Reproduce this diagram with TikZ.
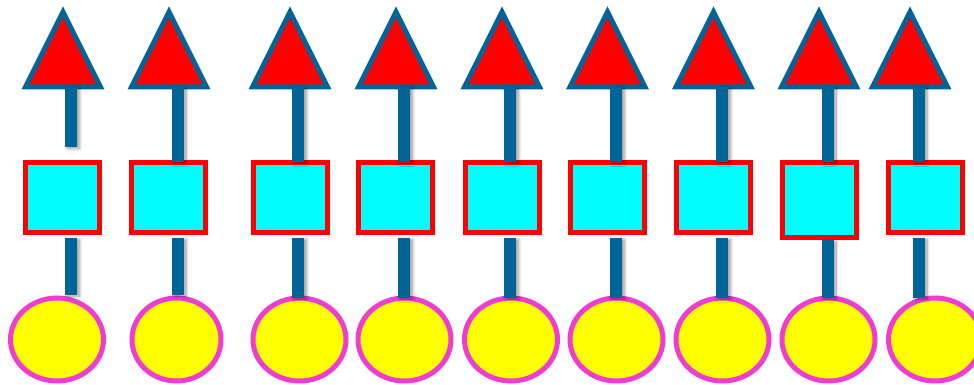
\documentclass[tikz,border=0pt]{standalone}
\usetikzlibrary{shapes.geometric,shadows.blur}
\definecolor{barblue}{RGB}{0,100,150}
\definecolor{mag}{RGB}{240,60,210}
\definecolor{sqcyan}{RGB}{0,255,255}
\definecolor{elyellow}{RGB}{255,255,0}
\definecolor{pured}{RGB}{255,0,0}
\begin{document}
\begin{tikzpicture}[x=1pt,y=-1pt,
  tri/.style={isosceles triangle, isosceles triangle stretches, shape border rotate=90,
    minimum width=75pt, minimum height=75pt, inner sep=0pt, outer sep=0pt,
    fill=pured, draw=barblue, line width=5pt, anchor=apex},
  sq/.style={rectangle, minimum width=74pt, minimum height=70pt, inner sep=0pt,
    fill=sqcyan, draw=pured, line width=5pt},
  ell/.style={ellipse, minimum width=93pt, minimum height=83pt, inner sep=0pt,
    fill=elyellow, draw=mag, line width=5pt},
  bar/.style={fill=barblue, blur shadow={shadow xshift=2.5pt, shadow yshift=-1.5pt,
    shadow opacity=40, shadow blur steps=8, shadow blur radius=3pt}}]
\useasboundingbox (0,0) rectangle (974,385);

% triangles
\node[tri] (t1) at (63,12) {};
\node[tri] (t2) at (169,12) {};
\node[tri] (t3) at (290,12) {};
\node[tri] (t4) at (396,12) {};
\node[tri] (t5) at (502,12) {};
\node[tri] (t6) at (607.5,12) {};
\node[tri] (t7) at (713.5,12) {};
\node[tri] (t8) at (819,12) {};
\node[tri] (t9) at (910,12) {};

% squares
\node[sq] (s1) at (62.5,197.5) {};
\node[sq] (s2) at (168.5,197.5) {};
\node[sq] (s3) at (290,197.5) {};
\node[sq] (s4) at (395.5,197.5) {};
\node[sq] (s5) at (502,197.5) {};
\node[sq] (s6) at (607.5,197.5) {};
\node[sq] (s7) at (713,197.5) {};
\node[sq, minimum height=75pt] (s8) at (819,200) {};
\node[sq] (s9) at (925,197.5) {};

% ellipses
\node[ell] (e1) at (57,339.5) {};
\node[ell, minimum width=89pt] (e2) at (176.5,339.5) {};
\node[ell] (e3) at (299.5,339.5) {};
\node[ell] (e4) at (404.5,339.5) {};
\node[ell] (e5) at (511,339.5) {};
\node[ell] (e6) at (616.5,339.5) {};
\node[ell] (e7) at (722.5,339.5) {};
\node[ell] (e8) at (828.5,339.5) {};
\node[ell] (e9) at (935,339.5) {};

% bar positions
\coordinate (x1) at (71,0);
\coordinate (x2) at (177.5,0);
\coordinate (x3) at (298,0);
\coordinate (x4) at (404,0);
\coordinate (x5) at (510,0);
\coordinate (x6) at (616,0);
\coordinate (x7) at (722,0);
\coordinate (x8) at (827.5,0);
\coordinate (x9) at (918.5,0);

% upper bars
\path[bar] ([xshift=-6pt]x1 |- t1.south) rectangle ([xshift=6pt,yshift=13pt]x1 |- s1.north);
\foreach \k in {2,...,9}{
  \path[bar] ([xshift=-6pt]x\k |- t\k.south) rectangle ([xshift=6pt,yshift=-2pt]x\k |- s\k.north);
}
% lower bars
\path[bar] ([xshift=-6pt,yshift=-3pt]x1 |- s1.south) rectangle ([xshift=6pt,yshift=1pt]x1 |- e1.north);
\path[bar] ([xshift=-6pt,yshift=-3pt]x2 |- s2.south) rectangle ([xshift=6pt,yshift=1pt]x2 |- e2.north);
\foreach \k in {3,...,7,9}{
  \path[bar] ([xshift=-6pt,yshift=-3pt]x\k |- s\k.south) rectangle ([xshift=6pt,yshift=-2pt]x\k |- e\k.north);
}
\path[bar] ([xshift=-6pt]x8 |- s8.south) rectangle ([xshift=6pt,yshift=-2pt]x8 |- e8.north);
\end{tikzpicture}
\end{document}
